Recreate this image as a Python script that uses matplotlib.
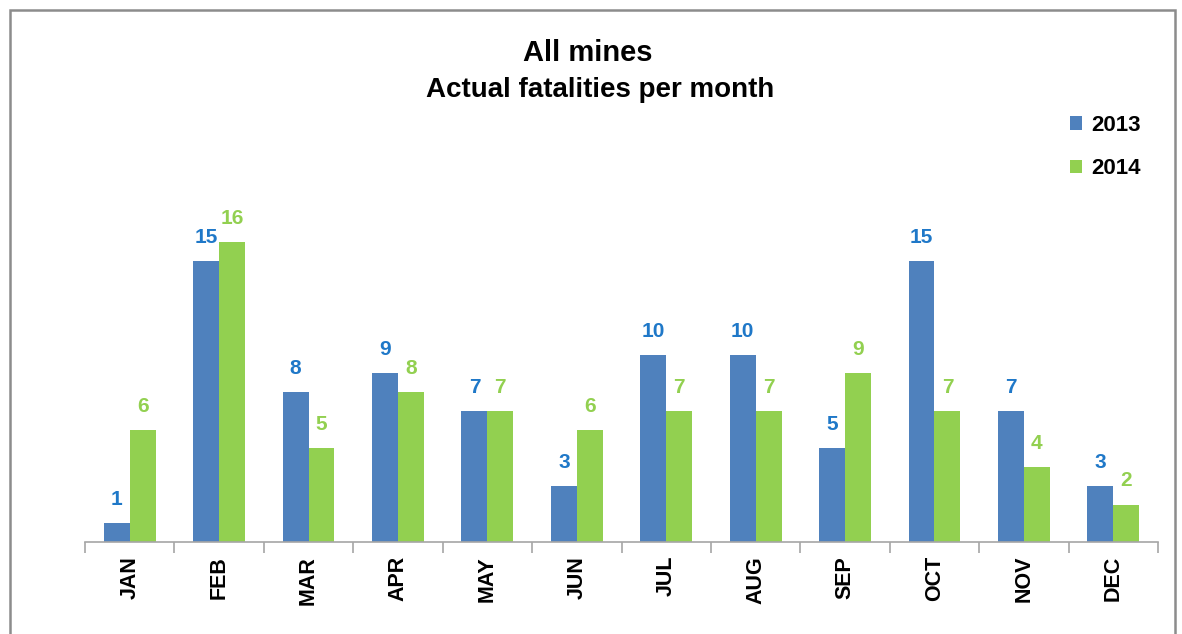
import matplotlib
matplotlib.use("Agg")
import matplotlib.pyplot as plt
from matplotlib.patches import Rectangle
import numpy as np

months = ["JAN", "FEB", "MAR", "APR", "MAY", "JUN", "JUL", "AUG", "SEP", "OCT", "NOV", "DEC"]
fat_2013 = [1, 15, 8, 9, 7, 3, 10, 10, 5, 15, 7, 3]
fat_2014 = [6, 16, 5, 8, 7, 6, 7, 7, 9, 7, 4, 2]
series_labels = ["2013", "2014"]

plt.rcParams['font.family'] = ['Liberation Sans', 'DejaVu Sans']

W, H = 1182, 634
fig = plt.figure(figsize=(W/100, H/100), dpi=100)

# outer border
fig.patches.append(Rectangle((10/W, -0.05), (1175-10)/W, 1 - 10/H + 0.05,
                             transform=fig.transFigure, fill=False,
                             edgecolor="#8c8c8c", linewidth=1.8))

left, right = 85/W, 1158/W
bottom = (H-542)/H
ymax = 18
height = (ymax*18.73)/H
ax = fig.add_axes([left, bottom, right-left, height])

x = np.arange(len(months))
bw = 0.29
c13, c14 = "#4F81BD", "#92D050"
lc13, lc14 = "#1F78C8", "#92D050"
b1 = ax.bar(x - bw/2, fat_2013, bw, color=c13, label=series_labels[0])
b2 = ax.bar(x + bw/2, fat_2014, bw, color=c14, label=series_labels[1])

for xi, v in zip(x, fat_2013):
    ax.text(xi - bw/2, v + 0.75, str(v), ha="center", va="bottom",
            color=lc13, fontsize=15, fontweight="bold")
for xi, v in zip(x, fat_2014):
    ax.text(xi + bw/2, v + 0.75, str(v), ha="center", va="bottom",
            color=lc14, fontsize=15, fontweight="bold")

ax.set_xlim(-0.5, len(months) - 0.5)
ax.set_ylim(0, ymax)
for s in ["top", "right", "left"]:
    ax.spines[s].set_visible(False)
ax.spines["bottom"].set_color("#a6a6a6")
ax.spines["bottom"].set_linewidth(1.2)
ax.set_yticks([])
ax.set_xticks(np.arange(len(months) + 1) - 0.5, minor=False)
ax.set_xticklabels([])
ax.tick_params(axis="x", which="major", length=8, color="#a6a6a6", width=1.2)
ax.set_xticks(x, minor=True)
ax.set_xticklabels(months, minor=True, rotation=90, fontsize=15.5, fontweight="bold")
ax.tick_params(axis="x", which="minor", length=0, pad=10)
for lbl in ax.get_xticklabels(minor=True):
    lbl.set_va("top")

fig.text(588/W, 1 - 53/H, "All mines", ha="center", va="center",
         fontsize=21, fontweight="bold")
fig.text(600/W, 1 - 90/H, "Actual fatalities per month", ha="center", va="center",
         fontsize=20, fontweight="bold")

leg = fig.legend(handles=[b1, b2], labels=series_labels, loc="upper left",
                 bbox_to_anchor=(1050/W, 1 - 95/H), frameon=False,
                 prop={"size": 16, "weight": "bold"}, handlelength=0.55,
                 handleheight=0.55, handletextpad=0.4, labelspacing=1.0)

fig.savefig("out.png", dpi=100)
